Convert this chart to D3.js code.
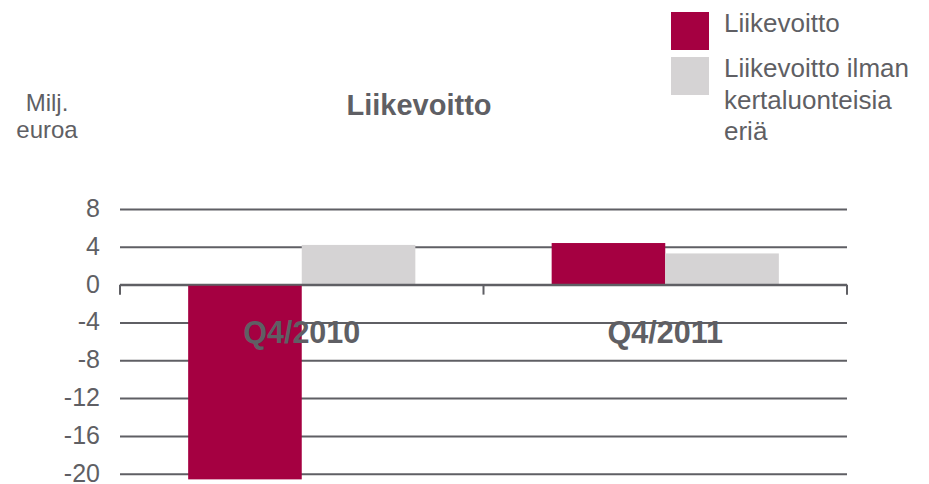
<!DOCTYPE html>
<html>
<head>
<meta charset="utf-8">
<script src="https://cdn.jsdelivr.net/npm/d3@7"></script>
<style>
  body { margin: 0; background: #fff; }
  svg { display: block; font-family: 'Liberation Sans', Arial, sans-serif; }
</style>
</head>
<body>
<svg id="chart" width="929" height="484"></svg>
<script>
const categories = ['Q4/2010', 'Q4/2011'];
const seriesNames = ['Liikevoitto', 'Liikevoitto ilman kertaluonteisia eriä'];
const liikevoitto = [-20.6, 4.4];
const ilmanKertaluonteisia = [4.2, 3.3];
const yTicks = [8, 4, 0, -4, -8, -12, -16, -20];

const colors = ['#a50041', '#d5d3d4'];
const textColor = '#5f5f64';
const gridColor = '#5f5f64';

const svg = d3.select('#chart');

const x = d3.scaleBand().domain(categories).range([120, 847]);
const x1 = d3.scaleBand().domain(seriesNames).range([0, x.bandwidth()]).paddingInner(0).paddingOuter(0.6);
const y = d3.scaleLinear().domain([-20, 8]).range([473.7, 209]);

// gridlines + tick labels
const yAxis = d3.axisLeft(y).tickValues(yTicks).tickSize(-(x.range()[1] - x.range()[0])).tickPadding(20);
const gy = svg.append('g').attr('transform', `translate(${x.range()[0]},0)`).call(yAxis);
gy.select('.domain').remove();
gy.selectAll('.tick line').attr('stroke', gridColor).attr('stroke-width', 2);
gy.selectAll('.tick text')
  .attr('fill', textColor)
  .attr('dy', '0.3em')
  .style('font-size', '25px')
  .text((d) => (d < 0 ? '-' + Math.abs(d) : d));

// bars
const rows = categories.map((c, i) => ({ cat: c, values: [liikevoitto[i], ilmanKertaluonteisia[i]] }));
const groups = svg.append('g').selectAll('g').data(rows).enter().append('g')
  .attr('transform', (d) => `translate(${x(d.cat)},0)`);
groups.selectAll('rect')
  .data((d) => d.values.map((v, j) => ({ name: seriesNames[j], v, j })))
  .enter()
  .append('rect')
  .attr('x', (d) => x1(d.name))
  .attr('width', x1.bandwidth())
  .attr('y', (d) => y(Math.max(0, d.v)))
  .attr('height', (d) => Math.abs(y(d.v) - y(0)))
  .attr('fill', (d) => colors[d.j]);

// zero axis with category boundary ticks
const gx = svg.append('g');
gx.append('line')
  .attr('x1', x.range()[0]).attr('x2', x.range()[1])
  .attr('y1', y(0)).attr('y2', y(0))
  .attr('stroke', gridColor).attr('stroke-width', 2);
const edges = categories.map((c) => x(c)).concat([x.range()[1]]);
gx.selectAll('.edge').data(edges).enter().append('line')
  .attr('class', 'edge')
  .attr('x1', (d) => d).attr('x2', (d) => d)
  .attr('y1', y(0)).attr('y2', y(0) + 10)
  .attr('stroke', gridColor).attr('stroke-width', 2);
gx.selectAll('.cat').data(categories).enter().append('text')
  .attr('class', 'cat')
  .attr('x', (d) => x(d) + x.bandwidth() / 2)
  .attr('y', 343)
  .attr('text-anchor', 'middle')
  .attr('fill', textColor)
  .style('font-size', '30.5px')
  .style('font-weight', 'bold')
  .text((d) => d);

// title and unit
svg.append('text')
  .attr('x', 419).attr('y', 115)
  .attr('text-anchor', 'middle')
  .attr('fill', textColor)
  .style('font-size', '29px')
  .style('font-weight', 'bold')
  .text('Liikevoitto');
svg.append('text')
  .attr('x', 47).attr('y', 111)
  .attr('text-anchor', 'middle')
  .attr('fill', textColor)
  .style('font-size', '24px')
  .selectAll('tspan').data(['Milj.', 'euroa']).enter().append('tspan')
  .attr('x', 47).attr('dy', (d, i) => (i ? 27 : 0))
  .text((d) => d);

// legend
const legendLines = [['Liikevoitto'], ['Liikevoitto ilman', 'kertaluonteisia', 'eriä']];
const legend = svg.append('g').attr('transform', 'translate(671,12)');
legendLines.forEach((lines, i) => {
  const g = legend.append('g').attr('transform', `translate(0,${i * 45})`);
  g.append('rect').attr('width', 38).attr('height', 38).attr('fill', colors[i]);
  g.append('text')
    .attr('x', 53).attr('y', 20)
    .attr('fill', textColor)
    .style('font-size', '26px')
    .selectAll('tspan').data(lines).enter().append('tspan')
    .attr('x', 53).attr('dy', (d, k) => (k ? 31.5 : 0))
    .text((d) => d);
});
</script>
</body>
</html>
